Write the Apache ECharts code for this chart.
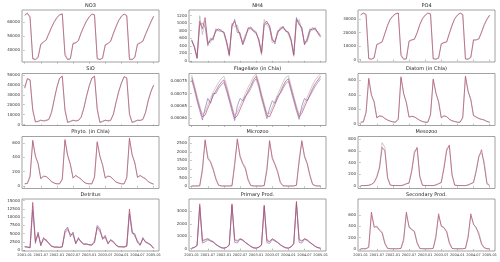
<!DOCTYPE html>
<html>
<head>
<meta charset="utf-8">
<script src="https://cdn.jsdelivr.net/npm/echarts@6/dist/echarts.min.js"></script>
<style>
  html, body { margin: 0; padding: 0; background: #fff; }
  #chart { width: 500px; height: 262px; }
</style>
</head>
<body>
<div id="chart"></div>
<script>
// x = months since 2001-01 (one value per month)
const xTickMonths = [0, 6, 12, 18, 24, 30, 36, 42, 48];
const xTickLabels = ['2001-01', '2001-07', '2002-01', '2002-07', '2003-01', '2003-07', '2004-01', '2004-07', '2005-01'];

// NO3
const no3Ticks = [40000, 50000, 60000];
const no3Red = [65000, 66500, 64000, 33500, 33000, 34500, 44000, 45500, 47500, 52000, 56500, 60500,
  63500, 65500, 66000, 36000, 33000, 33500, 44500, 45000, 47000, 52500, 57000, 61000,
  64000, 66000, 65500, 33500, 33000, 34000, 43500, 44500, 46500, 52000, 57000, 61500,
  64500, 66000, 65000, 33000, 33000, 34500, 44000, 45000, 46500, 51500, 56000, 60500, 64500];
const no3Grey = [65500, 66800, 63000, 34000, 33200, 35500, 44500, 46000, 47000, 51500, 56000, 60000,
  63000, 65200, 66300, 38000, 33300, 34000, 45000, 45500, 46500, 52000, 56500, 60500,
  63500, 65800, 65000, 34500, 33200, 34500, 44000, 45000, 46000, 51500, 56500, 61000,
  64000, 65800, 64500, 34000, 33300, 35000, 44500, 45500, 46000, 51000, 55500, 60000, 64000];

// NH4
const nh4Ticks = [0, 200, 400, 600, 800, 1000, 1200];
const nh4Red = [550, 380, 80, 1050, 850, 1150, 450, 550, 600, 800, 850, 800,
  750, 500, 150, 950, 1050, 850, 700, 450, 650, 850, 900, 800,
  750, 550, 200, 1000, 1050, 900, 550, 500, 750, 850, 900, 800,
  750, 550, 150, 1100, 1000, 850, 450, 550, 800, 850, 850, 750, 650];
const nh4Grey = [520, 400, 110, 1200, 700, 1050, 520, 480, 650, 780, 820, 830,
  720, 450, 120, 1000, 900, 950, 650, 500, 700, 800, 870, 820,
  780, 500, 150, 1100, 950, 850, 480, 560, 700, 900, 850, 830,
  700, 520, 120, 1000, 1100, 800, 500, 500, 750, 900, 800, 780, 680];
const nh4Purple = [560, 350, 60, 950, 1000, 900, 400, 600, 550, 850, 800, 780,
  770, 520, 180, 900, 1100, 750, 750, 420, 600, 880, 850, 780,
  720, 580, 230, 950, 1000, 950, 600, 450, 800, 820, 920, 780,
  770, 580, 180, 1150, 950, 900, 420, 600, 850, 820, 880, 720, 630];

// PO4
const po4Ticks = [0, 10000, 20000, 30000];
const po4Red = [33000, 34500, 33500, 600, 300, 1200, 11000, 12000, 13000, 19500, 25500, 30000,
  32500, 34000, 34500, 3000, 300, 500, 13500, 14500, 15000, 20000, 26000, 30500,
  33000, 34500, 34000, 500, 300, 1000, 11500, 12500, 13000, 19500, 25500, 30500,
  33000, 34500, 33500, 400, 300, 1500, 14500, 14500, 15500, 20500, 26000, 30000, 33000];
const po4Grey = [33300, 34600, 32500, 900, 350, 1800, 11500, 12300, 13500, 19000, 25000, 29500,
  32000, 33800, 34300, 4500, 350, 800, 14000, 14800, 15200, 19500, 25500, 30000,
  32700, 34300, 33500, 900, 350, 1500, 12000, 12800, 13300, 19000, 25000, 30000,
  32700, 34300, 33000, 800, 350, 2000, 14800, 14800, 15300, 20000, 25500, 29500, 32700];

// SiO
const sioTicks = [0, 10000, 20000, 30000, 40000, 50000];
const sioRed = [37000, 46500, 45000, 14000, 2500, 3000, 4500, 3500, 4000, 5000, 12000, 25000,
  38000, 47000, 49000, 14000, 2000, 3000, 4500, 3500, 4000, 7000, 16000, 28000,
  39000, 47000, 49000, 15000, 2000, 3000, 4500, 3500, 4000, 10000, 22000, 33000,
  42000, 48500, 47000, 10000, 2000, 3000, 4500, 4000, 5000, 12000, 24000, 33000, 40000];
const sioGrey = [36500, 46000, 45500, 16000, 3000, 3500, 4000, 4000, 4500, 5500, 13000, 26000,
  37500, 46500, 48500, 16000, 2500, 3500, 4000, 4000, 4500, 8000, 17000, 29000,
  38500, 46500, 48500, 17000, 2500, 3500, 4000, 4000, 4500, 11000, 23000, 34000,
  41500, 48000, 47500, 12000, 2500, 3500, 4000, 4500, 5500, 13000, 25000, 34000, 39500];

// Flagellate (in Chla)
const flagTicks = [0.0006, 0.00065, 0.0007, 0.00075];
const flagRed = [0.000765, 0.000725, 0.00068, 0.00064, 0.000605, 0.000612, 0.00064, 0.000665, 0.00069, 0.00071, 0.00073, 0.000745,
  0.000755, 0.00072, 0.00068, 0.00064, 0.0006, 0.00061, 0.000635, 0.00066, 0.000685, 0.00071, 0.00073, 0.000755,
  0.00077, 0.000735, 0.00069, 0.00065, 0.00061, 0.000605, 0.00063, 0.000655, 0.00068, 0.000705, 0.00073, 0.00075,
  0.00076, 0.00072, 0.00068, 0.00064, 0.000605, 0.00062, 0.000645, 0.00067, 0.000695, 0.00072, 0.00074, 0.000755, 0.00077];
const flagGrey = [0.000775, 0.000735, 0.00069, 0.00065, 0.000615, 0.000625, 0.000655, 0.00068, 0.000705, 0.000725, 0.000745, 0.00076,
  0.00077, 0.000735, 0.00069, 0.00065, 0.00061, 0.000625, 0.00065, 0.000675, 0.0007, 0.000725, 0.000745, 0.000768,
  0.00078, 0.000745, 0.0007, 0.00066, 0.00062, 0.000618, 0.000645, 0.00067, 0.000695, 0.00072, 0.000745, 0.000765,
  0.000772, 0.000732, 0.00069, 0.00065, 0.000615, 0.000632, 0.00066, 0.000685, 0.00071, 0.000735, 0.000755, 0.000768, 0.00078];
const flagPurple = [0.000755, 0.000715, 0.00067, 0.00063, 0.000592, 0.00064, 0.00068, 0.00066, 0.0007, 0.0007, 0.00072, 0.000735,
  0.000745, 0.00071, 0.00067, 0.000628, 0.00059, 0.00065, 0.00068, 0.00067, 0.00069, 0.0007, 0.00072, 0.000745,
  0.00076, 0.000725, 0.00068, 0.00064, 0.000598, 0.00064, 0.00067, 0.00066, 0.00069, 0.0007, 0.00072, 0.00074,
  0.00075, 0.00071, 0.00067, 0.00063, 0.000595, 0.00065, 0.00068, 0.00067, 0.00069, 0.00071, 0.00073, 0.000745, 0.00076];

// Diatom (in Chla)
const diatomTicks = [0, 200, 400, 600];
const diatomRed = [20, 25, 150, 630, 400, 300, 80, 110, 100, 70, 50, 35,
  25, 20, 60, 650, 420, 290, 90, 100, 95, 70, 45, 30,
  20, 20, 120, 620, 430, 300, 80, 110, 100, 60, 40, 30,
  20, 20, 80, 660, 450, 330, 110, 90, 70, 60, 50, 30, 20];
const diatomGrey = [22, 28, 170, 610, 390, 310, 90, 100, 105, 75, 52, 36,
  26, 22, 80, 630, 410, 300, 95, 105, 90, 72, 47, 32,
  22, 22, 140, 600, 420, 310, 90, 105, 95, 65, 42, 31,
  22, 22, 100, 640, 440, 340, 115, 95, 75, 62, 52, 32, 22];

// Phyto. (in Chla)
const phytoTicks = [0, 200, 400, 600];
const phytoRed = [30, 35, 130, 640, 420, 310, 100, 140, 130, 100, 60, 40,
  30, 30, 90, 650, 430, 300, 110, 150, 120, 95, 55, 35,
  30, 30, 120, 620, 420, 290, 110, 140, 130, 90, 55, 40,
  30, 30, 110, 670, 440, 320, 120, 150, 120, 100, 60, 40, 25];
const phytoGrey = [32, 37, 150, 620, 410, 320, 110, 130, 135, 105, 62, 42,
  32, 32, 110, 630, 420, 310, 115, 140, 125, 98, 57, 37,
  32, 32, 140, 600, 410, 300, 115, 135, 125, 92, 57, 42,
  32, 32, 130, 650, 430, 330, 125, 140, 125, 102, 62, 42, 27];

// Microzoo
const microTicks = [0, 500, 1000, 1500, 2000, 2500];
const microRed = [10, 10, 10, 20, 900, 2700, 1600, 1400, 950, 400, 50, 10,
  10, 10, 10, 20, 1200, 2750, 1700, 1300, 1000, 350, 30, 10,
  10, 10, 10, 30, 900, 2650, 1600, 1250, 800, 200, 20, 10,
  10, 10, 10, 50, 1400, 2650, 1700, 1300, 600, 100, 20, 10, 10];
const microGrey = [10, 10, 10, 30, 1100, 2600, 1750, 1450, 1050, 480, 70, 12,
  10, 10, 10, 30, 1400, 2650, 1800, 1350, 1100, 420, 40, 12,
  10, 10, 10, 40, 1100, 2550, 1700, 1300, 900, 260, 30, 12,
  10, 10, 10, 70, 1600, 2550, 1800, 1350, 700, 140, 30, 12, 10];

// Mesozoo
const mesoTicks = [0, 200, 400, 600, 800];
const mesoRed = [10, 10, 10, 15, 30, 60, 150, 300, 660, 600, 150, 20,
  10, 10, 10, 10, 20, 40, 50, 250, 560, 660, 170, 15,
  10, 10, 10, 10, 20, 40, 60, 300, 600, 700, 200, 20,
  10, 10, 10, 10, 20, 40, 60, 250, 500, 620, 350, 40, 10];
const mesoGrey = [10, 10, 10, 15, 30, 70, 170, 340, 740, 660, 130, 15,
  10, 10, 10, 10, 20, 45, 60, 280, 600, 640, 150, 12,
  10, 10, 10, 10, 20, 45, 70, 330, 640, 680, 180, 15,
  10, 10, 10, 10, 20, 45, 70, 280, 520, 560, 420, 60, 12];

// Detritus
const detTicks = [0, 2500, 5000, 7500, 10000, 12500, 15000];
const detRed = [1000, 900, 700, 14500, 2500, 5000, 1500, 3500, 3000, 2000, 1200, 900,
  900, 800, 1000, 5500, 6500, 4500, 5000, 2000, 3500, 2500, 1800, 1800,
  1600, 1500, 2500, 7000, 6000, 3500, 4000, 2000, 3000, 2500, 1500, 1000,
  1000, 900, 1200, 12500, 5500, 4500, 2500, 1500, 3500, 2500, 2000, 1500, 500];
const detGrey = [1050, 950, 750, 13500, 3000, 4500, 2000, 3000, 3300, 1800, 1300, 950,
  950, 850, 1200, 5000, 6000, 5000, 4500, 2300, 3200, 2700, 1900, 1700,
  1650, 1600, 3000, 6500, 5500, 4000, 3500, 2300, 2800, 2300, 1600, 1050,
  1050, 950, 1500, 11500, 6000, 4000, 3000, 1700, 3200, 2700, 1900, 1400, 550];
const detPurple = [980, 880, 650, 12000, 2000, 5500, 1200, 3800, 2700, 2200, 1100, 850,
  880, 780, 900, 6000, 7000, 4000, 5500, 1800, 3800, 2300, 1700, 1900,
  1550, 1450, 2200, 7500, 6500, 3200, 4500, 1800, 3200, 2600, 1400, 950,
  950, 880, 1100, 11000, 5000, 5000, 2200, 1400, 3800, 2300, 2100, 1600, 480];

// Primary Prod.
const ppTicks = [0, 1000, 2000, 3000];
const ppRed = [30, 100, 250, 3600, 600, 700, 800, 650, 550, 350, 200, 80,
  40, 100, 300, 3600, 700, 600, 800, 700, 500, 350, 180, 70,
  40, 120, 300, 3500, 650, 550, 800, 650, 500, 320, 170, 70,
  40, 150, 400, 3800, 700, 600, 800, 700, 500, 350, 180, 80, 30];
const ppGrey = [30, 110, 280, 3300, 700, 750, 780, 680, 560, 360, 210, 85,
  42, 110, 330, 3400, 800, 650, 780, 720, 520, 360, 190, 75,
  42, 130, 330, 3300, 750, 600, 780, 680, 520, 330, 180, 75,
  42, 160, 430, 3500, 800, 650, 780, 720, 520, 360, 190, 85, 32];
const ppPurple = [28, 95, 230, 3400, 450, 550, 700, 600, 520, 330, 190, 75,
  38, 95, 280, 3500, 500, 450, 750, 650, 480, 330, 170, 65,
  38, 110, 280, 3400, 480, 420, 720, 600, 480, 300, 160, 65,
  38, 140, 380, 3700, 500, 450, 750, 650, 480, 330, 170, 75, 28];

// Secondary Prod.
const spTicks = [0, 200, 400, 600];
const spRed = [5, 5, 5, 30, 650, 380, 400, 330, 280, 90, 10, 5,
  5, 5, 5, 10, 150, 650, 380, 350, 300, 100, 10, 5,
  5, 5, 5, 10, 200, 620, 400, 380, 300, 100, 10, 5,
  5, 5, 5, 10, 200, 620, 430, 380, 250, 80, 20, 5, 5];
const spGrey = [5, 5, 5, 40, 600, 420, 370, 350, 300, 120, 15, 5,
  5, 5, 5, 15, 200, 610, 410, 330, 320, 130, 15, 5,
  5, 5, 5, 15, 250, 580, 420, 360, 320, 130, 15, 5,
  5, 5, 5, 15, 250, 580, 450, 360, 290, 110, 25, 5, 5];

const lineColors = { grey: '#a9a9a9', purple: '#7f5fa6', red: '#b24a6a' };

const panels = [
  { title: 'NO3', lines: { grey: no3Grey, red: no3Red }, ticks: no3Ticks, min: 31300, max: 68900 },
  { title: 'NH4', lines: { grey: nh4Grey, purple: nh4Purple, red: nh4Red }, ticks: nh4Ticks, min: -30, max: 1350 },
  { title: 'PO4', lines: { grey: po4Grey, red: po4Red }, ticks: po4Ticks, min: -1750, max: 36750 },
  { title: 'SiO', lines: { grey: sioGrey, red: sioRed }, ticks: sioTicks, min: -1000, max: 51600 },
  { title: 'Flagellate (in Chla)', lines: { grey: flagGrey, purple: flagPurple, red: flagRed }, ticks: flagTicks, min: 0.00057, max: 0.000781, digits: 5 },
  { title: 'Diatom (in Chla)', lines: { grey: diatomGrey, red: diatomRed }, ticks: diatomTicks, min: -25, max: 695 },
  { title: 'Phyto. (in Chla)', lines: { grey: phytoGrey, red: phytoRed }, ticks: phytoTicks, min: -35, max: 692 },
  { title: 'Microzoo', lines: { grey: microGrey, red: microRed }, ticks: microTicks, min: -137, max: 2887 },
  { title: 'Mesozoo', lines: { grey: mesoGrey, red: mesoRed }, ticks: mesoTicks, min: -40, max: 845 },
  { title: 'Detritus', lines: { grey: detGrey, purple: detPurple, red: detRed }, ticks: detTicks, min: -300, max: 15520 },
  { title: 'Primary Prod.', lines: { grey: ppGrey, purple: ppPurple, red: ppRed }, ticks: ppTicks, min: -190, max: 3990 },
  { title: 'Secondary Prod.', lines: { grey: spGrey, red: spRed }, ticks: spTicks, min: -35, max: 880 }
];

// layout of the 4x3 grid
const colLeft = [22, 189, 358];
const rowTop = [10, 73.5, 136.5, 199];
const plotW = 137;
const plotH = 52;
const frameColor = '#8a8a8a';
const textColor = '#333';

const chart = echarts.init(document.getElementById('chart'), null, { renderer: 'canvas' });

const grid = [], xAxis = [], yAxis = [], title = [], series = [];

panels.forEach((p, i) => {
  const r = Math.floor(i / 3), c = i % 3;
  const left = colLeft[c], top = rowTop[r];
  grid.push({
    left: left, top: top, width: plotW, height: plotH,
    show: true, borderColor: frameColor, borderWidth: 0.8, backgroundColor: 'transparent'
  });
  title.push({
    text: p.title,
    left: left + plotW / 2,
    top: top - 7,
    textAlign: 'center',
    padding: 0,
    textStyle: { fontSize: 5, fontWeight: 'normal', color: '#222', fontFamily: 'DejaVu Sans' }
  });
  xAxis.push({
    type: 'value', gridIndex: i, min: -1, max: 50,
    axisLine: { show: false },
    splitLine: { show: false },
    axisTick: { show: true, length: 1.5, customValues: xTickMonths, lineStyle: { color: frameColor, width: 0.6 } },
    axisLabel: {
      show: r === 3, customValues: xTickMonths, fontSize: 3.5, margin: 2.5, color: textColor,
      fontFamily: 'DejaVu Sans', hideOverlap: false, showMinLabel: true, showMaxLabel: true,
      formatter: v => xTickLabels[xTickMonths.indexOf(v)]
    }
  });
  yAxis.push({
    type: 'value', gridIndex: i, min: p.min, max: p.max,
    axisLine: { show: false },
    splitLine: { show: false },
    axisTick: { show: true, length: 1.5, customValues: p.ticks, lineStyle: { color: frameColor, width: 0.6 } },
    axisLabel: {
      customValues: p.ticks, fontSize: 4, margin: 2, color: textColor, fontFamily: 'DejaVu Sans',
      formatter: v => p.digits ? v.toFixed(p.digits) : String(Math.round(v))
    }
  });
  ['grey', 'purple', 'red'].forEach(key => {
    const vals = p.lines[key];
    if (!vals) return;
    series.push({
      type: 'line', xAxisIndex: i, yAxisIndex: i,
      data: vals.map((v, k) => [k, v]),
      showSymbol: false, symbol: 'none', silent: true,
      lineStyle: { color: lineColors[key], width: 0.7, opacity: key === 'red' ? 0.95 : 0.85 }
    });
  });
});

chart.setOption({
  animation: false,
  backgroundColor: '#fff',
  title: title,
  grid: grid,
  xAxis: xAxis,
  yAxis: yAxis,
  series: series
});
</script>
</body>
</html>
